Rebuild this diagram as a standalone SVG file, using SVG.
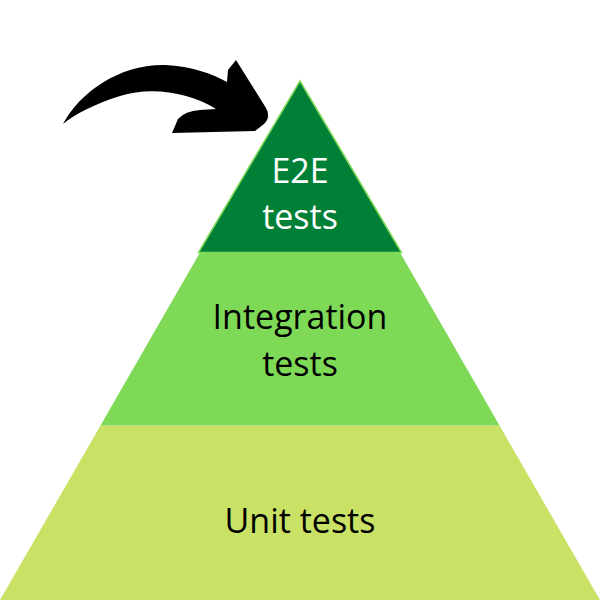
<svg xmlns="http://www.w3.org/2000/svg" width="600" height="600" viewBox="0 0 600 600">
<style>
.lbl{font-family:"Open Sans","Noto Sans",sans-serif;font-size:34px;text-anchor:middle}
.dark{fill:#000}
.white{fill:#fff}
</style>
<rect width="600" height="600" fill="#fff"/>
<g id="unit">
<polygon points="100.5,425.5 499.5,425.5 600,600 0,600" fill="#c9e265"/>
<text class="lbl dark" x="300" y="533">Unit tests</text>
</g>
<g id="integration">
<polygon points="200,252.5 400,252.5 499.5,425.5 100.5,425.5" fill="#7ed957"/>
<text class="lbl dark" x="300" y="329">Integration</text>
<text class="lbl dark" x="300" y="376">tests</text>
</g>
<g id="e2e">
<polygon points="300,81 401.5,252.5 198.5,252.5" fill="#008037" stroke="#7ed957" stroke-width="1.5"/>
<text class="lbl white" x="300" y="183">E2E</text>
<text class="lbl white" x="300" y="229">tests</text>
</g>
<g id="connectors">
<path d="M 63 124 C 80 92, 120 64, 165 65 C 192 66, 212 74, 227 82 L 228 70 L 236 60 L 266 108 Q 271 117 264 124 L 255 131 L 172 133 L 178 119 Q 185 111 200 110 L 216 109 C 190 92, 150 86, 120 96 C 95 104, 75 114, 63 124 Z" fill="#000"/>
</g>
</svg>
